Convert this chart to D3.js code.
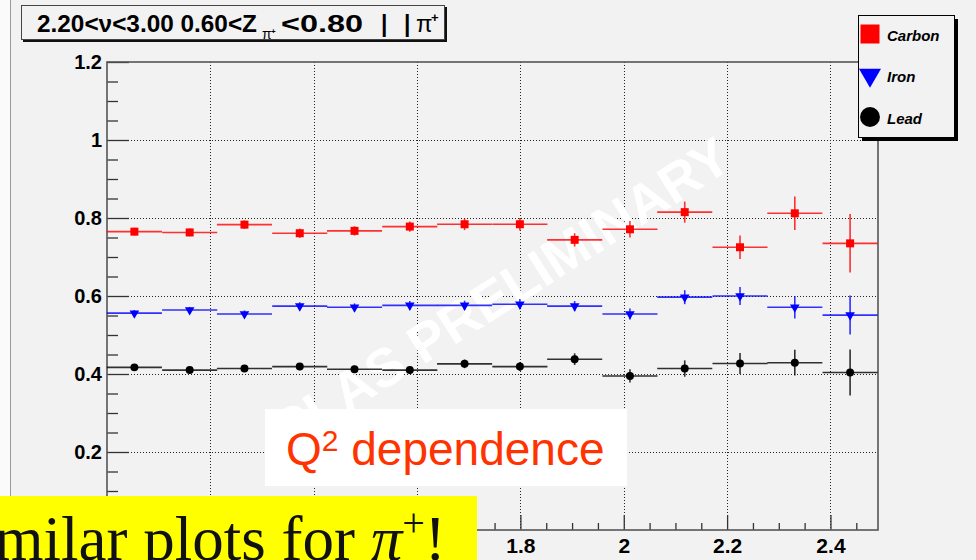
<!DOCTYPE html>
<html>
<head>
<meta charset="utf-8">
<script src="https://cdn.jsdelivr.net/npm/d3@7"></script>
<style>
  body { margin: 0; background: #fff; }
  svg { display: block; }
  text { font-family: Arial, "Liberation Sans", sans-serif; }
</style>
</head>
<body>
<svg id="chart" width="976" height="560"></svg>
<script>
const w = 976, h = 560;

// Q^2 bin centres and half width
const q2Centers = [1.053, 1.160, 1.266, 1.373, 1.479, 1.586, 1.692, 1.799, 1.905, 2.012, 2.118, 2.225, 2.331, 2.438];
const binHalf = 0.0533;

const carbon    = [0.765, 0.763, 0.783, 0.761, 0.767, 0.778, 0.784, 0.784, 0.744, 0.771, 0.815, 0.725, 0.812, 0.735];
const carbonErr = [0.010, 0.010, 0.011, 0.012, 0.012, 0.013, 0.015, 0.016, 0.017, 0.021, 0.027, 0.030, 0.043, 0.075];
const iron      = [0.556, 0.564, 0.554, 0.574, 0.571, 0.576, 0.576, 0.579, 0.574, 0.554, 0.597, 0.600, 0.571, 0.551];
const ironErr   = [0.008, 0.008, 0.009, 0.010, 0.010, 0.011, 0.012, 0.013, 0.013, 0.014, 0.018, 0.023, 0.029, 0.050];
const lead      = [0.417, 0.410, 0.414, 0.419, 0.412, 0.410, 0.426, 0.419, 0.438, 0.395, 0.414, 0.427, 0.429, 0.404];
const leadErr   = [0.008, 0.008, 0.008, 0.009, 0.009, 0.010, 0.011, 0.011, 0.015, 0.017, 0.021, 0.027, 0.033, 0.059];

const xTicks = [1.2, 1.4, 1.6, 1.8, 2.0, 2.2, 2.4];
const xLabels = ['', '', '', '1.8', '2', '2.2', '2.4'];   // 1.2 - 1.6 sit under the yellow note
const yTicks = [0, 0.2, 0.4, 0.6, 0.8, 1.0, 1.2];
const yLabels = ['', '0.2', '0.4', '0.6', '0.8', '1', '1.2'];
const xMinor = [1.05, 1.1, 1.15, 1.25, 1.3, 1.35, 1.45, 1.5, 1.55, 1.65, 1.7, 1.75, 1.85, 1.9, 1.95,
                2.05, 2.1, 2.15, 2.25, 2.3, 2.35, 2.45];
const yMinor = [0.05, 0.1, 0.15, 0.25, 0.3, 0.35, 0.45, 0.5, 0.55, 0.65, 0.7, 0.75, 0.85, 0.9, 0.95, 1.05, 1.1, 1.15];

const series = [
  {name: 'Carbon', vals: carbon, errs: carbonErr, color: '#ff0000', shape: 'square'},
  {name: 'Iron',   vals: iron,   errs: ironErr,   color: '#0000ff', shape: 'triangle'},
  {name: 'Lead',   vals: lead,   errs: leadErr,   color: '#000000', shape: 'circle'}
];

const frame = {left: 107, right: 878, top: 62, bottom: 530};
const x = d3.scaleLinear().domain([1.0, 2.492]).range([frame.left, frame.right]);
const y = d3.scaleLinear().domain([0, 1.2]).range([frame.bottom, frame.top]);

const svg = d3.select('#chart');

/* Background */
svg.append('rect').attr('width', w).attr('height', h).attr('fill', '#f2f2f2');
svg.append('rect').attr('width', 10).attr('height', h).attr('fill', '#fafafa');
svg.append('line').attr('x1', 10.5).attr('x2', 10.5).attr('y1', 0).attr('y2', h)
  .attr('stroke', '#9a9a9a').attr('stroke-width', 1);

/* Grid */
const grid = svg.append('g');
grid.selectAll('line.gx').data(xTicks).enter().append('line')
  .attr('x1', d => Math.round(x(d)) + 0.5).attr('x2', d => Math.round(x(d)) + 0.5)
  .attr('y1', frame.top).attr('y2', frame.bottom)
  .attr('stroke', '#222').attr('stroke-dasharray', '1,2');
grid.selectAll('line.gy').data(yTicks.filter(d => d > 0 && d < 1.2)).enter().append('line')
  .attr('x1', frame.left).attr('x2', frame.right)
  .attr('y1', d => Math.round(y(d)) + 0.5).attr('y2', d => Math.round(y(d)) + 0.5)
  .attr('stroke', '#222').attr('stroke-dasharray', '1,2');

/* Watermark */
svg.append('text')
  .attr('transform', 'translate(500,293) rotate(-32.5)')
  .attr('text-anchor', 'middle').attr('dy', '0.36em')
  .style('font-size', '54px').style('font-weight', 'bold').attr('fill', '#ffffff')
  .text('CLAS PRELIMINARY');

/* Axes */
const yAxis = d3.axisLeft(y).tickValues(yTicks).tickSize(-22).tickPadding(5)
  .tickFormat((d, i) => yLabels[i]);
const yAxisMinor = d3.axisLeft(y).tickValues(yMinor).tickSize(-11).tickFormat('');
const xAxis = d3.axisBottom(x).tickValues(xTicks).tickSize(-15).tickPadding(8)
  .tickFormat((d, i) => xLabels[i]);
const xAxisMinor = d3.axisBottom(x).tickValues(xMinor).tickSize(-7).tickFormat('');

const gy = svg.append('g').attr('transform', `translate(${frame.left},0)`).call(yAxis);
svg.append('g').attr('transform', `translate(${frame.left},0)`).call(yAxisMinor);
const gx = svg.append('g').attr('transform', `translate(0,${frame.bottom})`).call(xAxis);
svg.append('g').attr('transform', `translate(0,${frame.bottom})`).call(xAxisMinor);
svg.selectAll('.domain').remove();
svg.selectAll('.tick line').attr('stroke', '#333').attr('stroke-width', 1.3);
gy.selectAll('text').style('font-size', '20px').style('font-weight', 'bold')
  .style('font-family', 'Arial, "Liberation Sans", sans-serif').attr('fill', '#000');
gx.selectAll('text').style('font-size', '21px').style('font-weight', 'bold')
  .style('font-family', 'Arial, "Liberation Sans", sans-serif').attr('fill', '#000');

/* Frame */
svg.append('rect').attr('x', frame.left).attr('y', frame.top)
  .attr('width', frame.right - frame.left).attr('height', frame.bottom - frame.top)
  .attr('fill', 'none').attr('stroke', '#555').attr('stroke-width', 1.6);

/* Data */
const symbol = {
  square: d3.symbol().type(d3.symbolSquare).size(64),
  triangle: d3.symbol().type(d3.symbolTriangle).size(40),
  circle: d3.symbol().type(d3.symbolCircle).size(50)
};
series.forEach(s => {
  const g = svg.append('g');
  const pts = q2Centers.map((q, i) => ({q: q, v: s.vals[i], e: s.errs[i]}));
  g.selectAll('line.h').data(pts).enter().append('line')
    .attr('x1', d => x(d.q - binHalf)).attr('x2', d => x(d.q + binHalf))
    .attr('y1', d => y(d.v)).attr('y2', d => y(d.v))
    .attr('stroke', s.color).attr('stroke-width', 1.6).attr('stroke-opacity', 0.8);
  g.selectAll('line.v').data(pts).enter().append('line')
    .attr('x1', d => x(d.q)).attr('x2', d => x(d.q))
    .attr('y1', d => y(d.v - d.e)).attr('y2', d => y(d.v + d.e))
    .attr('stroke', s.color).attr('stroke-width', 1.6).attr('stroke-opacity', 0.8);
  g.selectAll('path').data(pts).enter().append('path')
    .attr('d', symbol[s.shape])
    .attr('transform', d => `translate(${x(d.q)},${y(d.v)})` + (s.shape === 'triangle' ? ' rotate(180)' : ''))
    .attr('fill', s.color);
});

/* Legend */
const legend = svg.append('g').attr('id', 'legend');
legend.append('rect').attr('x', 862).attr('y', 19).attr('width', 96).attr('height', 122).attr('fill', '#000');
legend.append('rect').attr('x', 858.5).attr('y', 15.5).attr('width', 96).attr('height', 122)
  .attr('fill', '#f2f2f2').attr('stroke', '#000');
const legSym = {
  square: d3.symbol().type(d3.symbolSquare).size(361),
  triangle: d3.symbol().type(d3.symbolTriangle).size(210),
  circle: d3.symbol().type(d3.symbolCircle).size(310)
};
const legY = [34, 75, 117];
series.forEach((s, i) => {
  legend.append('path').attr('d', legSym[s.shape])
    .attr('transform', `translate(870,${legY[i]})` + (s.shape === 'triangle' ? ' rotate(180)' : ''))
    .attr('fill', s.color);
  legend.append('text').attr('x', 887).attr('y', legY[i] + 7)
    .style('font-size', '15px').style('font-weight', 'bold').style('font-style', 'italic')
    .text(s.name);
});

/* Title box */
const title = svg.append('g');
title.append('rect').attr('x', 23).attr('y', 7).attr('width', 424).attr('height', 35).attr('fill', '#111');
title.append('rect').attr('x', 21.5).attr('y', 5.5).attr('width', 423).attr('height', 34)
  .attr('fill', '#f2f2f2').attr('stroke', '#444');
const tStyle = sel => sel.style('font-size', '23px').style('font-weight', 'bold');
title.append('text').attr('x', 37).attr('y', 32).attr('textLength', 220).attr('lengthAdjust', 'spacingAndGlyphs')
  .call(tStyle).text('2.20<\u03bd<3.00 0.60<Z');
title.append('text').attr('x', 262).attr('y', 39).style('font-size', '14px').text('\u03c0');
title.append('text').attr('x', 271).attr('y', 34).style('font-size', '8px').style('font-weight', 'bold').text('+');
title.append('text').attr('x', 281).attr('y', 32).attr('textLength', 82).attr('lengthAdjust', 'spacingAndGlyphs')
  .call(tStyle).text('<0.80');
title.append('text').attr('x', 381).attr('y', 32).call(tStyle).text('|');
title.append('text').attr('x', 404).attr('y', 32).call(tStyle).text('|');
title.append('text').attr('x', 416).attr('y', 32).style('font-size', '24px').text('\u03c0');
title.append('text').attr('x', 431).attr('y', 22).style('font-size', '13px').style('font-weight', 'bold').text('+');

/* Q2 dependence box */
svg.append('rect').attr('x', 265).attr('y', 409).attr('width', 362).attr('height', 77).attr('fill', '#ffffff');
const qt = svg.append('text').attr('x', 286).attr('y', 465)
  .style('font-size', '46px').attr('fill', '#ff3300');
qt.append('tspan').text('Q');
qt.append('tspan').attr('dy', -14).style('font-size', '30px').text('2');
qt.append('tspan').attr('dy', 14).text(' dependence');

/* Yellow note */
svg.append('rect').attr('x', 0).attr('y', 496).attr('width', 477).attr('height', 64).attr('fill', '#ffff00');
const note = svg.append('text').attr('x', -58).attr('y', 560)
  .style('font-family', '"Liberation Serif", "Times New Roman", serif').style('font-size', '63px')
  .attr('fill', '#111');
note.append('tspan').text('Similar plots for ');
note.append('tspan').style('font-style', 'italic').text('\u03c0');
note.append('tspan').attr('dy', -24).style('font-size', '40px').text('+');
note.append('tspan').attr('dy', 24).text('!');
</script>
</body>
</html>
